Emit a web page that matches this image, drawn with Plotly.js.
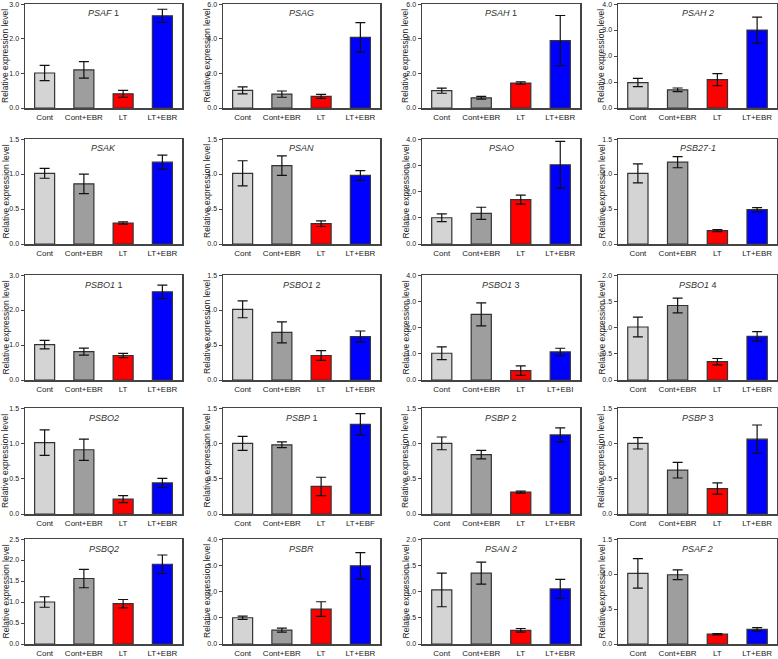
<!DOCTYPE html>
<html>
<head>
<meta charset="utf-8">
<script src="https://cdn.plot.ly/plotly-3.0.1.min.js"></script>
<style>html,body{margin:0;padding:0;background:#fff;}#chart{width:778px;height:659px;}</style>
</head>
<body>
<div id="chart"></div>
<script>
// ---------- data ----------
const categories = ['Cont', 'Cont+EBR', 'LT', 'LT+EBR'];
const panelTitles = [
  '<i>PSAF</i> 1', '<i>PSAG</i>', '<i>PSAH</i> 1', '<i>PSAH 2</i>',
  '<i>PSAK</i>', '<i>PSAN</i>', '<i>PSAO</i>', '<i>PSB27-1</i>',
  '<i>PSBO1</i> 1', '<i>PSBO1</i> 2', '<i>PSBO1</i> 3', '<i>PSBO1</i> 4',
  '<i>PSBO2</i>', '<i>PSBP</i> 1', '<i>PSBP</i> 2', '<i>PSBP</i> 3',
  '<i>PSBQ2</i>', '<i>PSBR</i>', '<i>PSAN 2</i>', '<i>PSAF 2</i>'
];
const yMax  = [3, 6, 6, 4,  1.5, 1.5, 4, 1.5,  3, 1.5, 4, 2,  1.5, 1.5, 1.5, 1.5,  2.5, 4, 2, 1.5];
const yStep = [1, 2, 2, 1,  0.5, 0.5, 1, 0.5,  1, 0.5, 1, 0.5,  0.5, 0.5, 0.5, 0.5,  0.5, 1, 0.5, 0.5];

// means per condition, one value per panel (panel order as in panelTitles)
const contMean    = [1.01, 1.02, 1.00, 0.98,  1.01, 1.01, 1.00, 1.01,  1.01, 1.01, 1.02, 1.01,  1.01, 1.00, 1.00, 1.00,  1.00, 1.00, 1.03, 1.01];
const contEbrMean = [1.10, 0.80, 0.59, 0.70,  0.86, 1.12, 1.17, 1.17,  0.81, 0.68, 2.50, 1.42,  0.91, 0.98, 0.84, 0.62,  1.56, 0.53, 1.35, 0.99];
const ltMean      = [0.41, 0.67, 1.44, 1.09,  0.30, 0.29, 1.69, 0.19,  0.70, 0.35, 0.36, 0.35,  0.21, 0.39, 0.31, 0.36,  0.96, 1.33, 0.26, 0.14];
const ltEbrMean   = [2.66, 4.08, 3.89, 3.00,  1.17, 0.98, 3.02, 0.49,  2.52, 0.62, 1.07, 0.83,  0.44, 1.27, 1.12, 1.06,  1.90, 2.98, 1.05, 0.21];

// error bar half-lengths
const contErr    = [0.22, 0.20, 0.15, 0.16,  0.07, 0.18, 0.15, 0.135, 0.12, 0.12, 0.24, 0.19,  0.18, 0.10, 0.09, 0.08,  0.125, 0.06, 0.32, 0.21];
const contEbrErr = [0.24, 0.18, 0.08, 0.07,  0.14, 0.14, 0.23, 0.08,  0.10, 0.15, 0.44, 0.14,  0.15, 0.04, 0.06, 0.11,  0.22, 0.075, 0.21, 0.07];
const ltErr      = [0.10, 0.12, 0.07, 0.23,  0.015, 0.04, 0.17, 0.015, 0.06, 0.07, 0.18, 0.06,  0.05, 0.13, 0.015, 0.08,  0.10, 0.28, 0.035, 0.01];
const ltEbrErr   = [0.19, 0.85, 1.45, 0.50,  0.10, 0.07, 0.89, 0.03,  0.19, 0.08, 0.14, 0.09,  0.065, 0.15, 0.10, 0.20,  0.22, 0.50, 0.18, 0.025];

const barColors = ['#d4d4d4', '#9e9e9e', '#ff0000', '#0000ff'];

// tick text exactly as printed in the reference
const yTickTextOverride = {13: ['0.0', '3.5', '1.0', '1.5']};
const xTickTextOverride = {10: ['Cont', 'Cont+EBR', 'LT', 'LT+EBI'], 13: ['Cont', 'Cont+EBR', 'LT', 'LT+EBF']};

// ---------- layout geometry (pixels) ----------
const W = 778, H = 659;
const colPx = [[25, 182], [223, 380], [422, 580], [618, 777]];
const rowPx = [[4, 108], [139, 244], [275, 380], [408, 514], [539, 644]];
const yTitleOffset = [20, 16.5, 17, 17];

const traces = [];
const layout = {
  width: W, height: H,
  margin: {l: 0, r: 0, t: 0, b: 0},
  paper_bgcolor: '#fff', plot_bgcolor: '#fff',
  showlegend: false,
  bargap: 0.49,
  font: {family: 'Liberation Sans, Arial, sans-serif', color: '#222'},
  annotations: []
};

for (let i = 0; i < panelTitles.length; i++) {
  const r = Math.floor(i / 4), c = i % 4;
  const ax = i === 0 ? '' : String(i + 1);
  const means = [contMean[i], contEbrMean[i], ltMean[i], ltEbrMean[i]];
  const errs = [contErr[i], contEbrErr[i], ltErr[i], ltEbrErr[i]];
  traces.push({
    type: 'bar',
    x: categories, y: means,
    xaxis: 'x' + ax, yaxis: 'y' + ax,
    marker: {color: barColors, line: {color: '#333', width: 1.2}},
    error_y: {type: 'data', array: errs, visible: true, color: '#111', thickness: 1.2, width: 5},
    hoverinfo: 'x+y'
  });
  const x0 = colPx[c][0] / W, x1 = colPx[c][1] / W;
  const y0 = 1 - rowPx[r][1] / H, y1 = 1 - rowPx[r][0] / H;
  const xa = {
    domain: [x0, x1], anchor: 'y' + ax,
    range: [-0.5, 3.5], type: 'category',
    showline: true, mirror: true, linecolor: '#444', linewidth: 1.5,
    showgrid: false, zeroline: false, ticks: '',
    ticklabelstandoff: 1,
    tickfont: {size: 8, color: '#222'}, fixedrange: true
  };
  if (xTickTextOverride[i]) { xa.tickmode = 'array'; xa.tickvals = categories; xa.ticktext = xTickTextOverride[i]; }
  // tick positions derived from the axis maximum and step
  const tv = [];
  for (let k = 0; k * yStep[i] <= yMax[i] + 1e-9; k++) tv.push(+(k * yStep[i]).toFixed(4));
  const ya = {
    domain: [y0, y1], anchor: 'x' + ax,
    range: [0, yMax[i] * 1.0005],
    tickmode: 'array', tickvals: tv,
    ticktext: yTickTextOverride[i] || tv.map(v => v.toFixed(1)),
    showline: true, mirror: true, linecolor: '#444', linewidth: 1.5,
    showgrid: false, zeroline: false, ticks: 'outside', ticklen: 3, tickwidth: 1, tickcolor: '#444',
    ticklabelstandoff: 0, ticklabeloverflow: 'allow',
    tickfont: {size: 7, color: '#222'}, fixedrange: true
  };
  layout['xaxis' + ax] = xa;
  layout['yaxis' + ax] = ya;
  // panel title
  layout.annotations.push({
    xref: 'paper', yref: 'paper',
    x: (x0 + x1) / 2, y: 1 - (rowPx[r][0] + 9.5) / H,
    text: panelTitles[i], showarrow: false,
    font: {size: 9, color: '#333'}, xanchor: 'center', yanchor: 'middle'
  });
  // y-axis title
  layout.annotations.push({
    xref: 'paper', yref: 'paper',
    x: (colPx[c][0] - yTitleOffset[c]) / W, y: (y0 + y1) / 2,
    text: 'Relative expression level', textangle: -90, showarrow: false,
    font: {size: 8.5, color: '#222'}, xanchor: 'center', yanchor: 'middle'
  });
}

Plotly.newPlot('chart', traces, layout, {displayModeBar: false, staticPlot: true});
</script>
</body>
</html>
